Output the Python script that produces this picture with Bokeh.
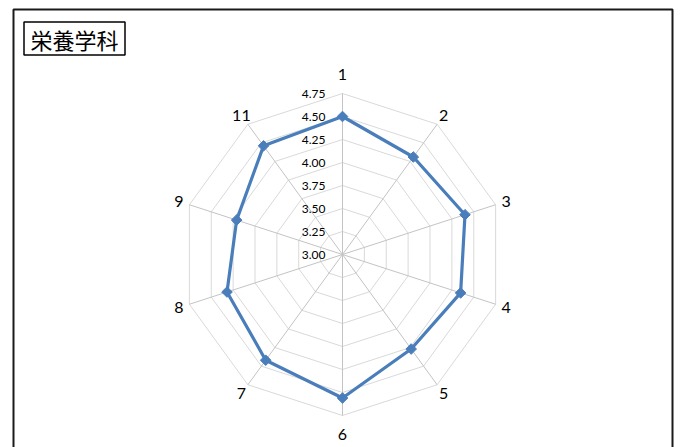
import numpy as np
from bokeh.plotting import figure
from bokeh.models import BoxAnnotation, Label, ColumnDataSource, Range1d
from bokeh.core.properties import value
from bokeh.embed import file_html
from bokeh.resources import INLINE

# ---- data ----
title_text = "栄養学科"
categories = ["1", "2", "3", "4", "5", "6", "7", "8", "9", "11"]
scores = [4.50, 4.31, 4.40, 4.35, 4.27, 4.56, 4.42, 4.32, 4.21, 4.46]
tick_values = [3.00, 3.25, 3.50, 3.75, 4.00, 4.25, 4.50, 4.75]
tick_labels = ["3.00", "3.25", "3.50", "3.75", "4.00", "4.25", "4.50", "4.75"]

# ---- layout (pixel based data space, origin at radar centre) ----
W, H = 685, 447
CX, CY = 342, 254          # centre position inside canvas (from left / from top)
R = 161                    # outer ring radius in px
VMIN, VMAX = tick_values[0], tick_values[-1]

def rad(v):
    return (v - VMIN) / (VMAX - VMIN) * R

n = len(categories)
theta = np.pi / 2 - np.arange(n) * 2 * np.pi / n

p = figure(width=W, height=H, output_backend="svg", toolbar_location=None,
           x_range=Range1d(-CX, W - CX), y_range=Range1d(-(H - CY), CY),
           x_axis_type=None, y_axis_type=None, min_border=0)
p.grid.visible = False
p.outline_line_color = None
p.background_fill_color = "white"

# rings
ring_xs, ring_ys = [], []
for v in tick_values[1:]:
    r = rad(v)
    ring_xs.append(list(r * np.cos(theta)) + [r * np.cos(theta[0])])
    ring_ys.append(list(r * np.sin(theta)) + [r * np.sin(theta[0])])
p.multi_line(ring_xs, ring_ys, line_color="#d9d9d9", line_width=1)

# spokes
spoke_xs = [[0, R * np.cos(t)] for t in theta]
spoke_ys = [[0, R * np.sin(t)] for t in theta]
p.multi_line(spoke_xs, spoke_ys, line_color="#c3c3c3", line_width=1)

# series
rs = np.array([rad(v) for v in scores])
sx = rs * np.cos(theta)
sy = rs * np.sin(theta)
src = ColumnDataSource(dict(x=sx, y=sy))
p.line(list(sx) + [sx[0]], list(sy) + [sy[0]], line_color="#4a7ebb", line_width=3.2,
       line_join="round")
p.scatter("x", "y", source=src, marker="square", angle=np.pi / 4, size=7.5,
          fill_color="#4a7ebb", line_color="#4a7ebb")

# tick labels
tsrc = ColumnDataSource(dict(x=[-17] * len(tick_values),
                             y=[rad(v) for v in tick_values],
                             t=tick_labels))
p.text("x", "y", text="t", source=tsrc, text_font=value("Lato"),
       text_font_size="12px", text_align="right", text_baseline="middle",
       text_color="#000000")

# category labels
lx, ly = [], []
for t in theta:
    vertical = abs(np.cos(t)) < 1e-6
    rl = 180 if vertical else 172
    lx.append(rl * np.cos(t))
    ly.append(rl * np.sin(t))
csrc = ColumnDataSource(dict(x=lx, y=ly, t=categories))
p.text("x", "y", text="t", source=csrc, text_font=value("Lato"),
       text_font_size="16px", text_align="center", text_baseline="middle",
       text_color="#000000")

# chart border (page px -> data: x-342, 254-y)
p.add_layout(BoxAnnotation(left=13 - CX, right=672 - CX, top=CY - 9,
                           bottom=-2000, fill_color=None, fill_alpha=0,
                           line_color="#1a1a1a", line_alpha=1.0, line_width=2))

# title box
p.add_layout(BoxAnnotation(left=23.5 - CX, right=124.5 - CX, top=CY - 21.5,
                           bottom=CY - 54.5, fill_color=None, fill_alpha=0,
                           line_color="#000000", line_alpha=1.0, line_width=1.5))
p.add_layout(Label(x=(23 + 125) / 2 - CX, y=CY - 38, text=title_text,
                   text_font="Noto Sans CJK JP", text_font_size="22px",
                   text_align="center", text_baseline="middle",
                   text_color="#000000"))

open("out.html", "w").write(file_html(p, INLINE))
